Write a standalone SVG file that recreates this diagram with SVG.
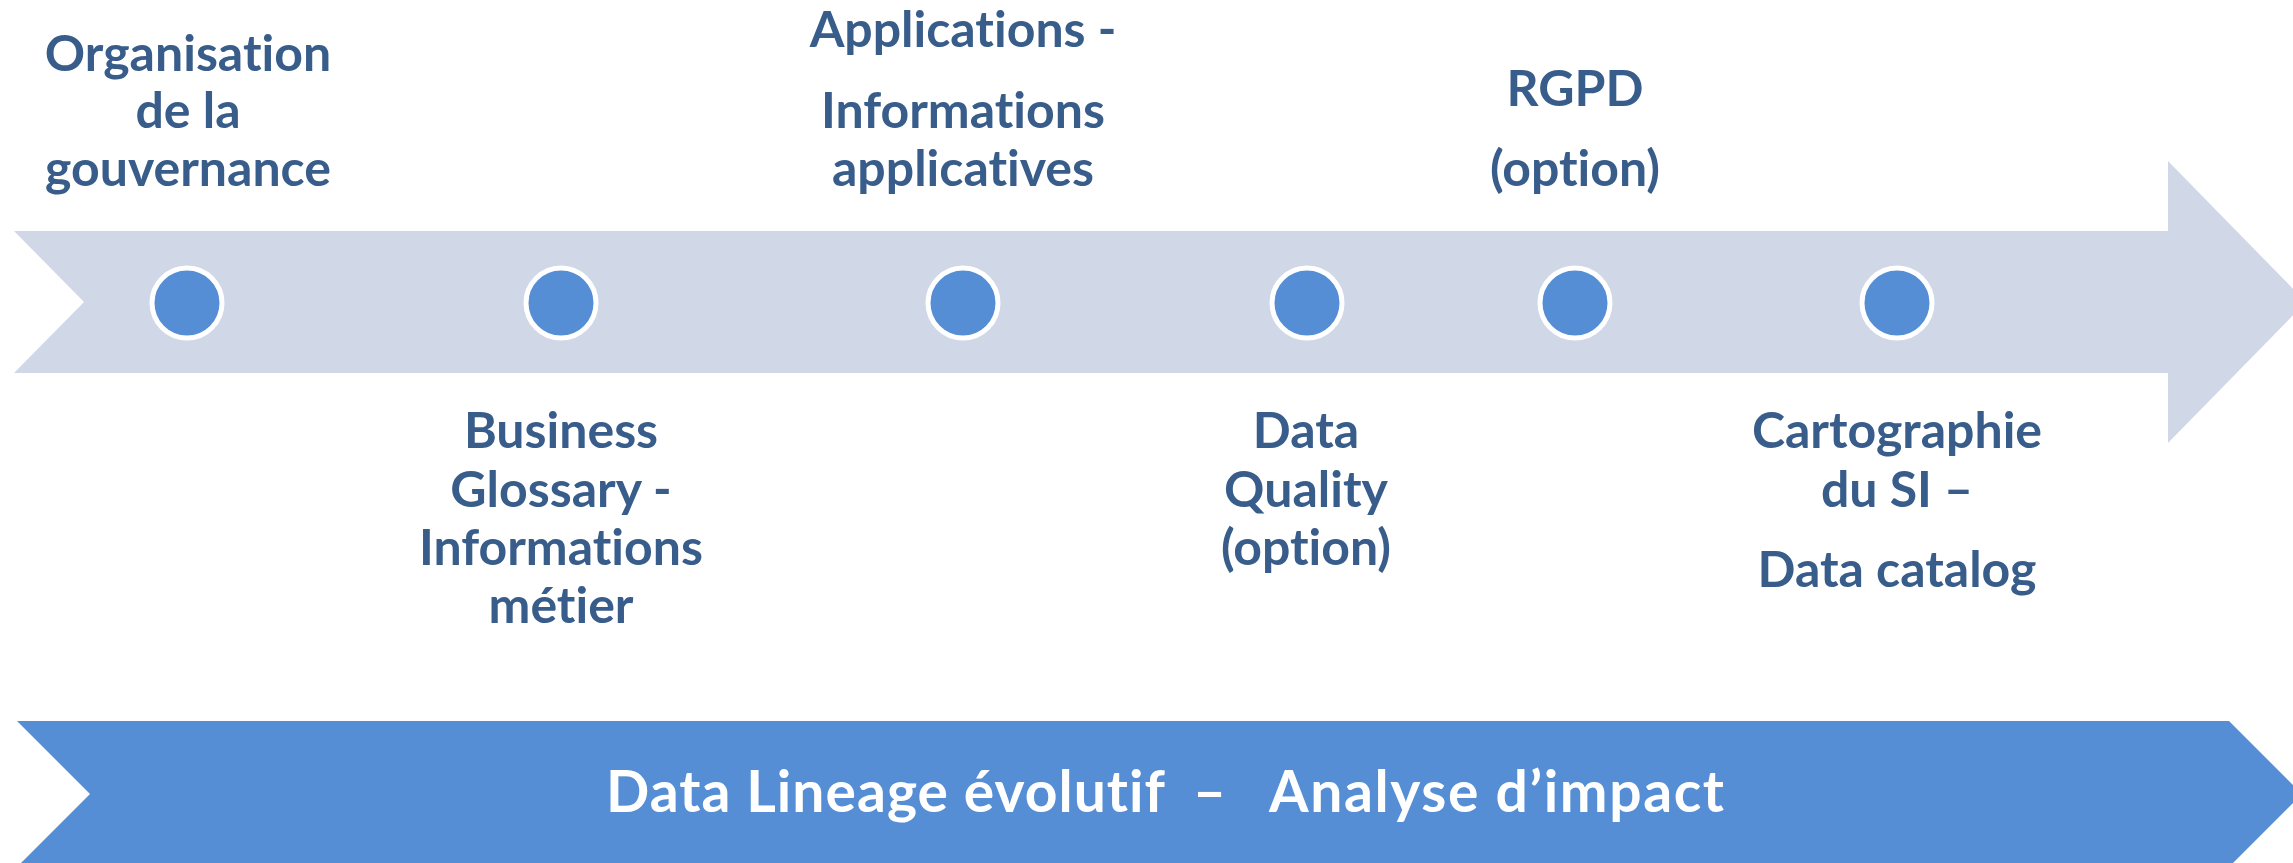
<svg xmlns="http://www.w3.org/2000/svg" width="2293" height="863" viewBox="0 0 2293 863">
  <style>
    text { font-variant-ligatures: none; }
    .lbl { font-family: Lato, "Liberation Sans", sans-serif; font-weight: 700; font-size: 50px; fill: #385D8A; text-anchor: middle; }
    .dot { fill: #558ED5; stroke: #FFFFFF; stroke-width: 5; }
    .band { font-family: Lato, "Liberation Sans", sans-serif; font-weight: 700; font-size: 57px; fill: #FFFFFF; }
  </style>
  <rect width="2293" height="863" fill="#FFFFFF"/>
  <g id="timeline">
    <polygon points="14,231 2168,231 2168,161 2306,302 2168,443 2168,373 14,373 84,302" fill="#D0D8E8"/>
  </g>
  <g id="connectors"></g>
  <g id="node-organisation">
    <circle class="dot" cx="187" cy="303" r="35"/>
    <text class="lbl" x="188" y="71">Organisation</text>
    <text class="lbl" x="188" y="128">de la</text>
    <text class="lbl" x="188" y="186">gouvernance</text>
  </g>
  <g id="node-business">
    <circle class="dot" cx="561" cy="303" r="35"/>
    <text class="lbl" x="561" y="448">Business</text>
    <text class="lbl" x="561" y="507">Glossary -</text>
    <text class="lbl" x="561" y="565">Informations</text>
    <text class="lbl" x="561" y="623">métier</text>
  </g>
  <g id="node-applications">
    <circle class="dot" cx="963" cy="303" r="35"/>
    <text class="lbl" x="963" y="47">Applications -</text>
    <text class="lbl" x="963" y="128">Informations</text>
    <text class="lbl" x="963" y="186">applicatives</text>
  </g>
  <g id="node-quality">
    <circle class="dot" cx="1307" cy="303" r="35"/>
    <text class="lbl" x="1306" y="448">Data</text>
    <text class="lbl" x="1306" y="507">Quality</text>
    <text class="lbl" x="1306" y="565">(option)</text>
  </g>
  <g id="node-rgpd">
    <circle class="dot" cx="1575" cy="303" r="35"/>
    <text class="lbl" x="1575" y="106">RGPD</text>
    <text class="lbl" x="1575" y="186">(option)</text>
  </g>
  <g id="node-cartographie">
    <circle class="dot" cx="1897" cy="303" r="35"/>
    <text class="lbl" x="1897" y="448">Cartographie</text>
    <text class="lbl" x="1897" y="507">du SI –</text>
    <text class="lbl" x="1897" y="587">Data catalog</text>
  </g>
  <g id="node-lineage">
    <polygon points="17,721 2229,721 2302,794 2229,867 17,867 90,794" fill="#558ED5"/>
    <text class="band" x="606" y="812" textLength="559" lengthAdjust="spacing">Data Lineage évolutif</text>
    <text class="band" x="1193" y="812">–</text>
    <text class="band" x="1269" y="812" textLength="455" lengthAdjust="spacing">Analyse d’impact</text>
  </g>
</svg>
